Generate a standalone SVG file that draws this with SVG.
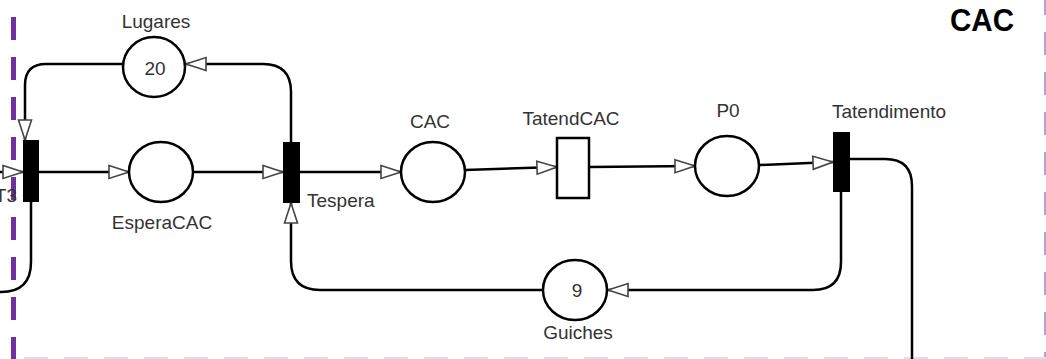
<svg xmlns="http://www.w3.org/2000/svg" width="1046" height="359" viewBox="0 0 1046 359">
<style>
.arc{fill:none;stroke:#000;stroke-width:2.5}
.place{fill:#fff;stroke:#000;stroke-width:2.5}
.bar{fill:#000}
.lbl{font-family:"Liberation Sans",Arial,sans-serif;font-size:19px;fill:#333}
.mid{text-anchor:middle}
</style>
<defs>
<marker id="ah" markerUnits="userSpaceOnUse" markerWidth="24" markerHeight="16" refX="21" refY="7" orient="auto" overflow="visible">
<path d="M1,0.5 L21,7 L1,13.5 Z" fill="#fff" stroke="#444" stroke-width="1.6" stroke-linejoin="miter"/>
</marker>
</defs>
<rect width="1046" height="359" fill="#fff"/>
<g id="frame">
<line x1="13.5" y1="17" x2="13.5" y2="362" stroke="#7030a0" stroke-width="5" stroke-dasharray="23 17"/>
<line x1="1045" y1="-8" x2="1045" y2="359" stroke="#b4a0d6" stroke-width="2" stroke-dasharray="23 17"/>
<line x1="24" y1="358" x2="1046" y2="358" stroke="#e2dcf0" stroke-width="2" stroke-dasharray="24 16"/>
</g>
<g id="title">
<text x="950" y="31" font-family="'Liberation Sans',Arial,sans-serif" font-weight="bold" font-size="31" fill="#000" textLength="64" lengthAdjust="spacingAndGlyphs">CAC</text>
</g>
<g id="connectors">
<path class="arc" d="M-10,172 H23" marker-end="url(#ah)"/>
<path class="arc" d="M39,172 H129" marker-end="url(#ah)"/>
<path class="arc" d="M193,172 H283" marker-end="url(#ah)"/>
<path class="arc" d="M300,172 H401" marker-end="url(#ah)"/>
<path class="arc" d="M465,170 L557,167" marker-end="url(#ah)"/>
<path class="arc" d="M589,167 L695,166" marker-end="url(#ah)"/>
<path class="arc" d="M759,165 L833,162" marker-end="url(#ah)"/>
<path class="arc" d="M841,192 V262 Q841,290 813,290 H608" marker-end="url(#ah)"/>
<path class="arc" d="M543,290 H320 Q291,290 291,261 V203" marker-end="url(#ah)"/>
<path class="arc" d="M291,142 V92 Q291,64 263,64 H186" marker-end="url(#ah)"/>
<path class="arc" d="M123,64 H46 Q25,64 25,85 V140" marker-end="url(#ah)"/>
<path class="arc" d="M31,202 V262 Q31,292 1,292 H-10"/>
<path class="arc" d="M850,159 H885 Q912,159 912,186 V362"/>
</g>
<g id="T3">
<rect class="bar" x="23" y="140" width="16" height="62"/>
<text class="lbl" x="17" y="202" text-anchor="end">T3</text>
</g>
<g id="Lugares">
<ellipse class="place" cx="154" cy="67" rx="31" ry="30"/>
<text class="lbl mid" x="155" y="75">20</text>
<text class="lbl mid" x="156" y="28">Lugares</text>
</g>
<g id="EsperaCAC">
<ellipse class="place" cx="161" cy="172" rx="32" ry="30"/>
<text class="lbl mid" x="162" y="229">EsperaCAC</text>
</g>
<g id="Tespera">
<rect class="bar" x="283" y="142" width="17" height="61"/>
<text class="lbl" x="307" y="207">Tespera</text>
</g>
<g id="CAC">
<ellipse class="place" cx="433" cy="172" rx="32" ry="30"/>
<text class="lbl mid" x="430" y="128">CAC</text>
</g>
<g id="TatendCAC">
<rect x="557" y="138" width="32" height="60" fill="#fff" stroke="#000" stroke-width="2.5"/>
<text class="lbl mid" x="571" y="125">TatendCAC</text>
</g>
<g id="P0">
<ellipse class="place" cx="727" cy="166" rx="32" ry="30"/>
<text class="lbl mid" x="728" y="117">P0</text>
</g>
<g id="Tatendimento">
<rect class="bar" x="833" y="132" width="17" height="60"/>
<text class="lbl" x="832" y="118">Tatendimento</text>
</g>
<g id="Guiches">
<ellipse class="place" cx="575" cy="290" rx="32" ry="30"/>
<text class="lbl mid" x="577" y="297">9</text>
<text class="lbl mid" x="578" y="339">Guiches</text>
</g>
</svg>
